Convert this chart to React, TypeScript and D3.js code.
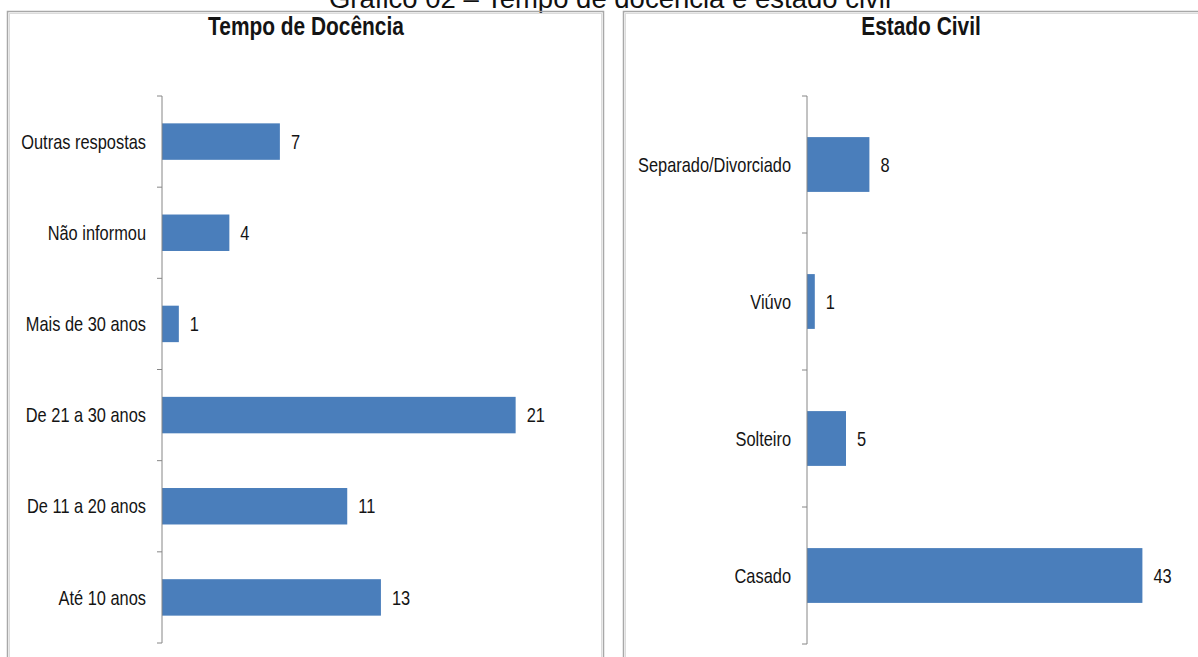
import React from "react";
import * as d3 from "d3";

const W = 1198;
const H = 657;

const pageTitle = "Gráfico 02 – Tempo de docência e estado civil";

const tempoTitle = "Tempo de Docência";
const tempoCategories = [
  "Outras respostas",
  "Não informou",
  "Mais de 30 anos",
  "De 21 a 30 anos",
  "De 11 a 20 anos",
  "Até 10 anos",
];
const tempoValues = [7, 4, 1, 21, 11, 13];

const civilTitle = "Estado Civil";
const civilCategories = ["Separado/Divorciado", "Viúvo", "Solteiro", "Casado"];
const civilValues = [8, 1, 5, 43];

const BAR = "#4A7EBB";
const AXIS = "#868686";
const FONT = "'Liberation Sans', Arial, sans-serif";
const NARROW = 0.82;

type NTProps = {
  x: number;
  y: number;
  size: number;
  anchor?: "start" | "middle" | "end";
  bold?: boolean;
  dy?: string;
  children: React.ReactNode;
};

function NarrowText({ x, y, size, anchor = "start", bold = false, dy, children }: NTProps) {
  return (
    <text
      transform={`translate(${x},${y}) scale(${NARROW},1)`}
      dy={dy}
      textAnchor={anchor}
      fontFamily={FONT}
      fontWeight={bold ? "bold" : "normal"}
      fontSize={size}
      fill="#141414"
    >
      {children}
    </text>
  );
}

type PanelProps = {
  title: string;
  titleX: number;
  categories: string[];
  values: number[];
  xMax: number;
  xRange: [number, number];
  yRange: [number, number];
};

function Panel({ title, titleX, categories, values, xMax, xRange, yRange }: PanelProps) {
  const x = d3.scaleLinear().domain([0, xMax]).range(xRange);
  const y = d3
    .scaleBand<string>()
    .domain(categories)
    .range(yRange)
    .paddingInner(0.6)
    .paddingOuter(0.3);
  const step = y.step();
  const start = (y(categories[0]) as number) - 0.3 * step;
  const ticks = d3.range(categories.length + 1).map((i) => start + i * step);
  const x0 = x(0);
  return (
    <g>
      <NarrowText x={titleX} y={35} size={25.5} anchor="middle" bold>
        {title}
      </NarrowText>
      {categories.map((c, i) => {
        const cy = (y(c) as number) + y.bandwidth() / 2;
        return (
          <g key={c}>
            <rect
              x={x0}
              y={y(c)}
              width={x(values[i]) - x0}
              height={y.bandwidth()}
              fill={BAR}
            />
            <NarrowText x={x(values[i]) + 11} y={cy} dy="0.36em" size={20}>
              {values[i]}
            </NarrowText>
            <NarrowText x={x0 - 16} y={cy} dy="0.36em" size={20} anchor="end">
              {c}
            </NarrowText>
          </g>
        );
      })}
      <line x1={x0} x2={x0} y1={yRange[0]} y2={yRange[1]} stroke={AXIS} strokeWidth={1} />
      {ticks.map((t, i) => (
        <line key={i} x1={x0 - 5} x2={x0} y1={t} y2={t} stroke={AXIS} strokeWidth={1} />
      ))}
    </g>
  );
}

export default function App() {
  return (
    <svg
      width={W}
      height={H}
      style={{ position: "absolute", left: 0, top: 0, background: "#fff" }}
    >
      <rect x={0} y={0} width={W} height={H} fill="#fff" />
      <text
        x={610}
        y={8}
        textAnchor="middle"
        fontFamily={FONT}
        fontSize={27.5}
        fill="#111"
      >
        {pageTitle}
      </text>
      <rect x={7.5} y={11.5} width={596} height={660} fill="none" stroke="#a8a8a8" strokeWidth={1.5} />
      <rect x={9.5} y={13.5} width={592} height={660} fill="none" stroke="#dcdcdc" strokeWidth={1} />
      <rect x={623.5} y={11.5} width={600} height={660} fill="none" stroke="#a8a8a8" strokeWidth={1.5} />
      <rect x={625.5} y={13.5} width={600} height={660} fill="none" stroke="#dcdcdc" strokeWidth={1} />
      <Panel
        title={tempoTitle}
        titleX={306}
        categories={tempoCategories}
        values={tempoValues}
        xMax={25}
        xRange={[162, 583]}
        yRange={[96, 643]}
      />
      <Panel
        title={civilTitle}
        titleX={921}
        categories={civilCategories}
        values={civilValues}
        xMax={50}
        xRange={[807, 1197]}
        yRange={[96, 644]}
      />
    </svg>
  );
}
